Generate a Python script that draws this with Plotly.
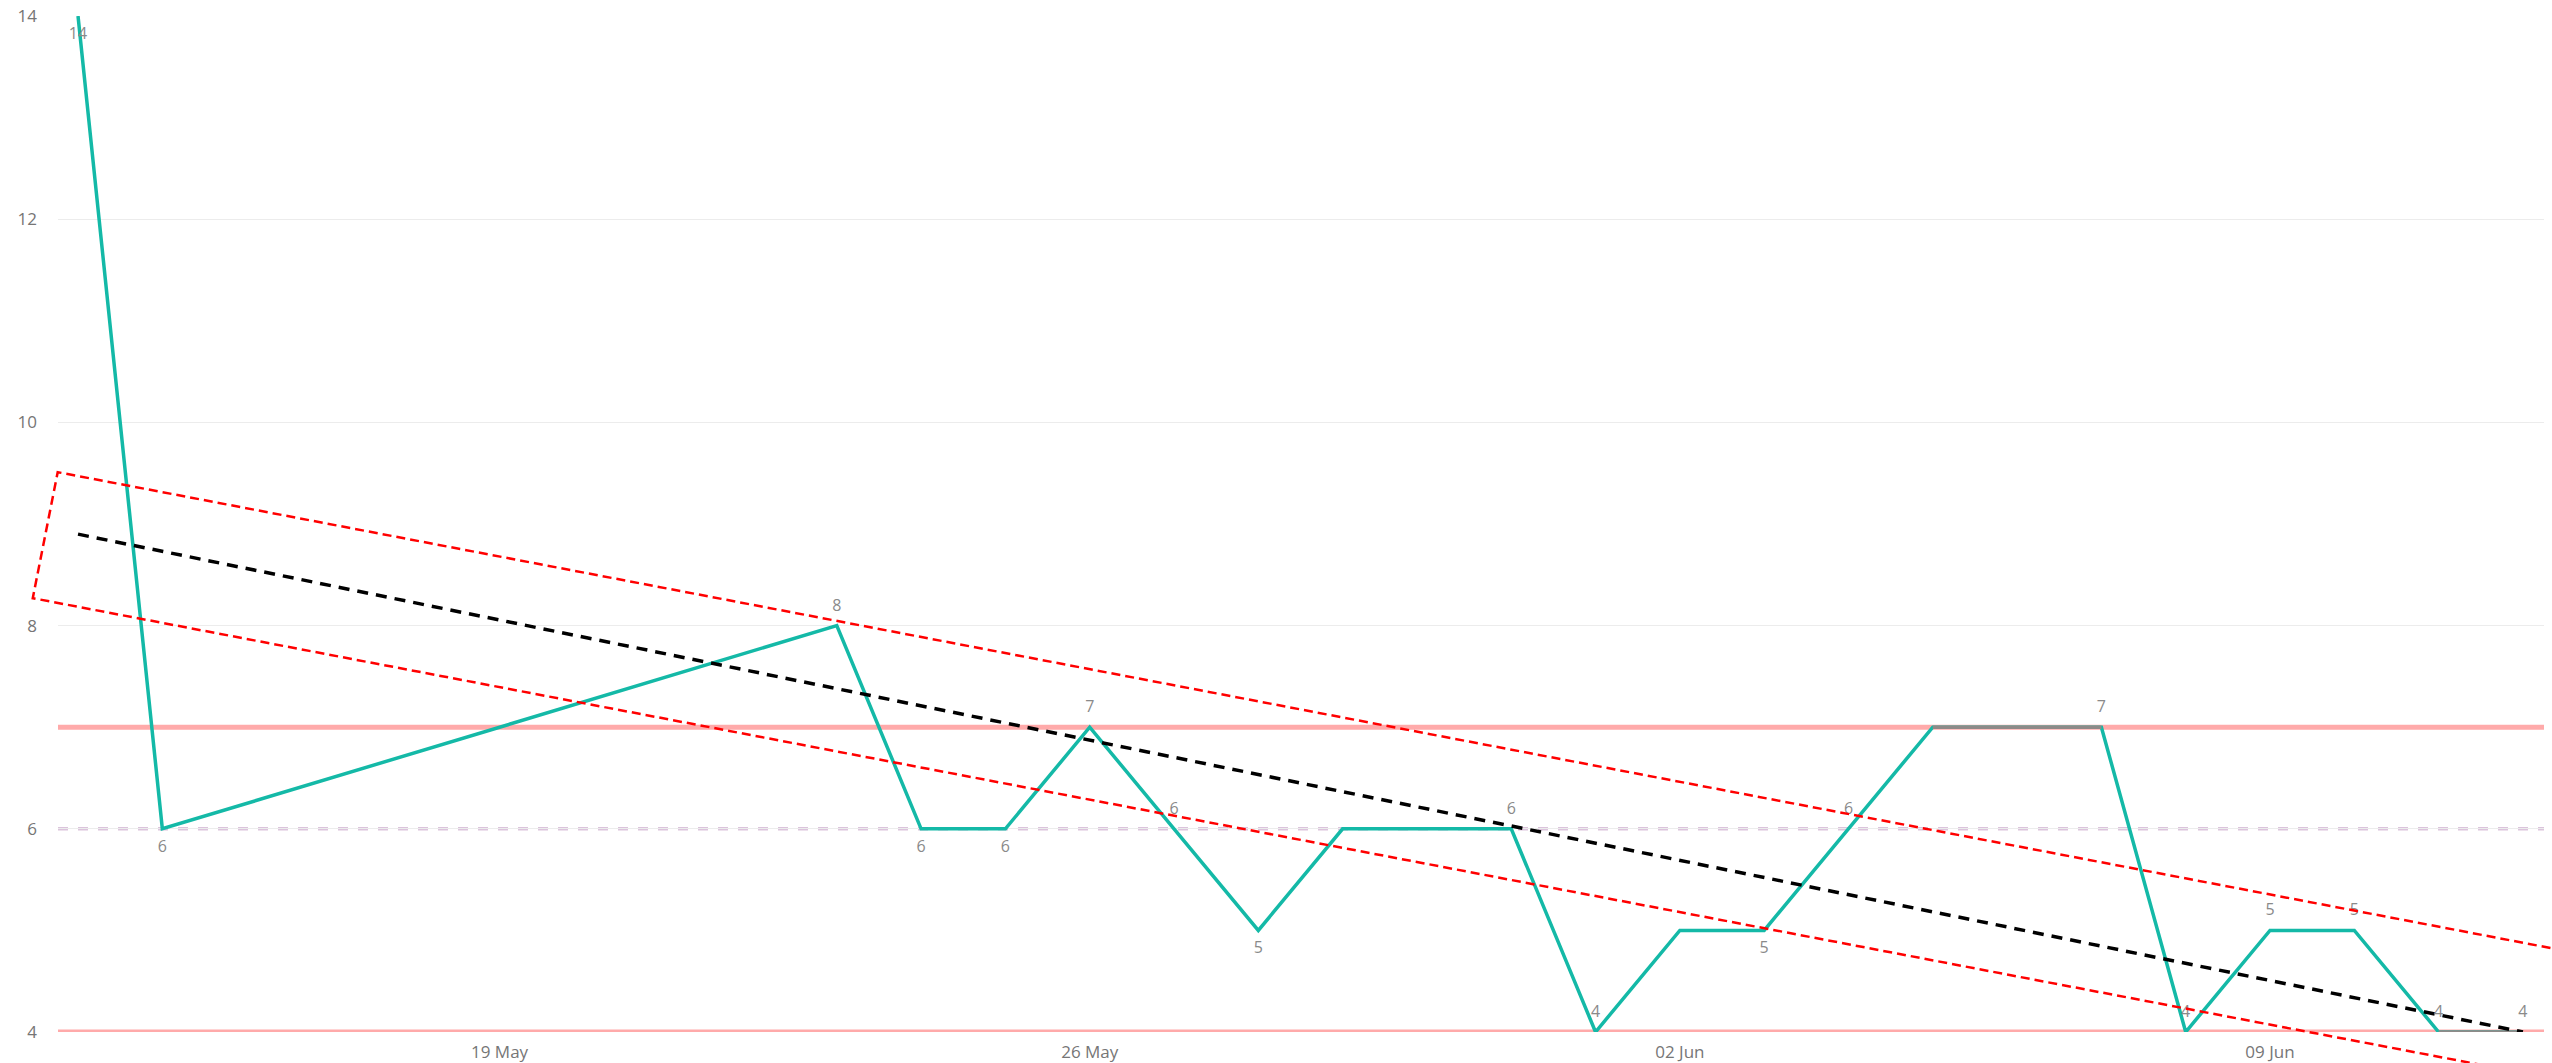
import pandas as pd
import plotly.graph_objects as go

# ---------------- data ----------------
dates = ["2024-05-14", "2024-05-15", "2024-05-23", "2024-05-24", "2024-05-25", "2024-05-26",
         "2024-05-27", "2024-05-28", "2024-05-29", "2024-05-30", "2024-05-31", "2024-06-01",
         "2024-06-02", "2024-06-03", "2024-06-04", "2024-06-05", "2024-06-06", "2024-06-07",
         "2024-06-08", "2024-06-09", "2024-06-10", "2024-06-11", "2024-06-12"]
values = [14, 6, 8, 6, 6, 7, 6, 5, 6, 6, 6, 4, 5, 5, 6, 7, 7, 7, 4, 5, 5, 4, 4]
label_shown = [1, 1, 1, 1, 1, 1, 1, 1, 0, 0, 1, 1, 0, 1, 1, 0, 0, 1, 1, 1, 1, 1, 1]
label_side = ["bottom", "bottom", "top", "bottom", "bottom", "top", "top", "bottom", "top", "top",
              "top", "top", "top", "bottom", "top", "top", "top", "top", "top", "top", "top",
              "top", "top"]

gray_dates = ["2024-06-05", "2024-06-07", None, "2024-06-11", "2024-06-12"]
gray_values = [7, 7, None, 4, 4]

trend_dates = ["2024-05-14", "2024-06-12"]
trend_values = [8.9, 4.0]

ref_solid = [4, 7]
ref_dashed = [6]

band_dates = ["2024-06-13 00:00", "2024-05-13 11:07", "2024-05-13 18:13", "2024-06-13 00:00"]
band_values = [3.44, 8.27, 9.51, 4.72]

x_tick_vals = ["2024-05-19", "2024-05-26", "2024-06-02", "2024-06-09"]
x_tick_text = ["19 May", "26 May", "02 Jun", "09 Jun"]
y_tick_vals = [4, 6, 8, 10, 12, 14]

x_range = ["2024-05-13 18:18", "2024-06-12 06:00"]
y_range = [4, 14]

# ---------------- style ----------------
FONT = "Open Sans"
TEAL = "#14B9A7"
TICK_COL = "#767676"
W, H = 2552, 1063
M = dict(l=58, r=8, t=16, b=31)

fig = go.Figure()

fig.add_trace(go.Scatter(x=dates, y=values, mode="lines",
                         line=dict(color=TEAL, width=3.5), hoverinfo="skip", showlegend=False))
fig.add_trace(go.Scatter(x=gray_dates, y=gray_values, mode="lines", connectgaps=False,
                         line=dict(color="#8e8a88", width=3.5), hoverinfo="skip", showlegend=False))
fig.add_trace(go.Scatter(x=trend_dates, y=trend_values, mode="lines",
                         line=dict(color="#000000", width=3.5, dash="11px,8px"),
                         hoverinfo="skip", showlegend=False))

texts = [str(v) if s else "" for v, s in zip(values, label_shown)]
positions = [f"{s} center" for s in label_side]
fig.add_trace(go.Scatter(x=dates, y=values, mode="markers+text", text=texts,
                         textposition=positions, cliponaxis=False,
                         marker=dict(size=16, color="rgba(0,0,0,0)"),
                         textfont=dict(family=FONT, size=16, color="#8a8a8a"),
                         hoverinfo="skip", showlegend=False))

for v in ref_solid:
    fig.add_shape(type="line", xref="paper", x0=0, x1=1, yref="y", y0=v, y1=v,
                  line=dict(color="#ffaaaa", width=5), layer="between")
for v in ref_dashed:
    fig.add_shape(type="line", xref="paper", x0=0, x1=1, yref="y", y0=v, y1=v,
                  line=dict(color="#dbc3dc", width=3.5, dash="10px,10px"), layer="between")

# band: convert data values to paper fractions (not clipped to plot area)
x0 = pd.Timestamp(x_range[0]).value
x1 = pd.Timestamp(x_range[1]).value
def px(d):
    return (pd.Timestamp(d).value - x0) / (x1 - x0)
def py(v):
    return (v - y_range[0]) / (y_range[1] - y_range[0])

pts = [(px(d), py(v)) for d, v in zip(band_dates, band_values)]
path = "M " + " L ".join(f"{a:.5f},{b:.5f}" for a, b in pts)
fig.add_shape(type="path", path=path, xref="paper", yref="paper",
              line=dict(color="#ff0000", width=2.5, dash="9px,5px"), layer="above")

fig.update_layout(
    width=W, height=H, margin=M,
    paper_bgcolor="white", plot_bgcolor="white",
    font=dict(family=FONT, size=17, color=TICK_COL),
    showlegend=False,
    xaxis=dict(type="date", range=x_range, tickvals=x_tick_vals, ticktext=x_tick_text,
               showgrid=False, zeroline=False, showline=False, ticks="", automargin=False,
               ticklabelstandoff=8, ticklabeloverflow="allow",
               tickfont=dict(family=FONT, size=17, color=TICK_COL)),
    yaxis=dict(range=y_range, tickvals=y_tick_vals, showgrid=True, gridcolor="#ececec",
               gridwidth=1, zeroline=False, showline=False, ticks="", automargin=False,
               ticklabelstandoff=20, ticklabeloverflow="allow",
               tickfont=dict(family=FONT, size=17, color=TICK_COL)),
)

fig.write_html("out.html", config={"displayModeBar": False},
               post_script="document.body.style.margin='0';document.body.style.overflow='hidden';")
